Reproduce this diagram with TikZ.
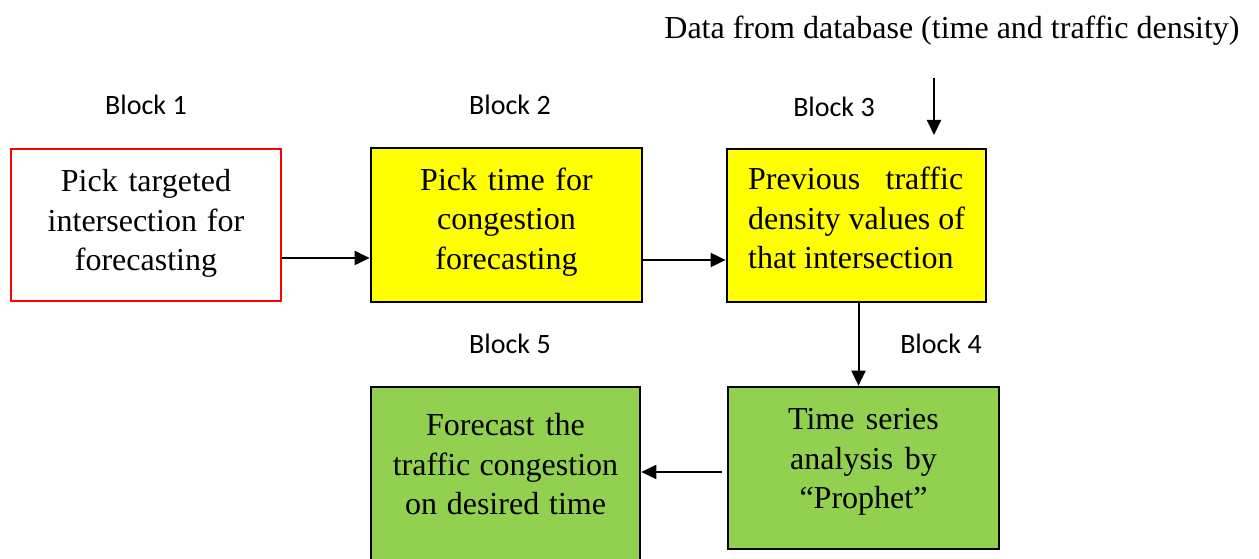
\documentclass[tikz,border=0pt]{standalone}
\usepackage{fontspec}
\setmainfont{Liberation Serif}
\newfontfamily\blockfont{Carlito}
\usetikzlibrary{arrows.meta,calc}

\definecolor{boxyellow}{HTML}{FFFF00}
\definecolor{boxgreen}{HTML}{92D050}
\definecolor{boxred}{HTML}{FF0000}

% natural interword spacing inside aligned node text
\newcommand\naturalspaces{\spaceskip=0pt\xspaceskip=0pt\relax}

\begin{document}
\begin{tikzpicture}[x=1pt,y=1pt,
  box/.style={draw=black, line width=2.7pt, rectangle, inner sep=0pt},
  startbox/.style={box, draw=boxred, fill=white},
  yellowbox/.style={box, fill=boxyellow},
  greenbox/.style={box, fill=boxgreen},
  boxtext/.style={anchor=base, inner sep=0pt, align=center,
    font=\fontsize{32}{39.5}\selectfont},
  blocklabel/.style={anchor=base, inner sep=0pt, font=\blockfont\fontsize{28}{33}\selectfont},
  flow/.style={line width=2pt, -{Triangle[length=15pt,width=14pt]}}]

\useasboundingbox (0,0) rectangle (1259,559);
\clip (0,0) rectangle (1259,559);

% process boxes
\node[startbox,  minimum width=270pt, minimum height=152pt] (b1) at (146,334) {};
\node[yellowbox, minimum width=271pt, minimum height=154pt] (b2) at (506.5,334) {};
\node[yellowbox, minimum width=259pt, minimum height=153pt] (b3) at (856.5,333.5) {};
\node[greenbox,  minimum width=271pt, minimum height=162pt] (b4) at (863.5,91) {};
\node[greenbox,  minimum width=269pt, minimum height=193pt] (b5) at (505.5,75.5) {};

% box texts
\node[boxtext, text width=260pt] (t1) at (146,367)
  {\naturalspaces Pick targeted\\intersection for\\forecasting};
\node[boxtext, text width=260pt] (t2) at (506.5,368.5)
  {\naturalspaces Pick time for\\congestion\\forecasting};
\node[boxtext, anchor=base west, align=left, text width=240pt] (t3) at (748,369)
  {\naturalspaces\hbox to 215pt{Previous\hfill traffic}\\density values of\\that intersection};
\node[boxtext, text width=260pt] (t4) at (863.5,129)
  {\naturalspaces Time series\\analysis by\\``Prophet''};
\node[boxtext, text width=260pt] (t5) at (505.5,123)
  {\naturalspaces Forecast the\\traffic congestion\\on desired time};

% block labels
\node[blocklabel] (l1) at (146,444) {Block 1};
\node[blocklabel] (l2) at (510,444) {Block 2};
\node[blocklabel] (l3) at (834,442) {Block 3};
\node[blocklabel] (l4) at (941,205) {Block 4};
\node[blocklabel] (l5) at (510,205) {Block 5};

% data source
\node[anchor=base, inner sep=0pt, font=\fontsize{32}{38}\selectfont] (src) at (952,520)
  {Data from database (time and traffic density)};
\coordinate (inTop) at (934,481);
\coordinate (inTip) at (934,424);

% connectors
\draw[flow] ([yshift=-33pt]b1.east) -- ([yshift=-33pt]b1.east -| b2.west);
\draw[flow] ([yshift=-35pt]b2.east) -- ([yshift=-35pt]b2.east -| b3.west);
\draw[flow] (inTop) -- (inTip);
\draw[flow] ([xshift=2pt]b3.south) -- ([xshift=2pt]b3.south |- b4.north);
\coordinate (out4) at ([xshift=-5pt,yshift=-4pt]b4.west);
\draw[flow] (out4) -- (out4 -| b5.east);

\end{tikzpicture}
\end{document}
